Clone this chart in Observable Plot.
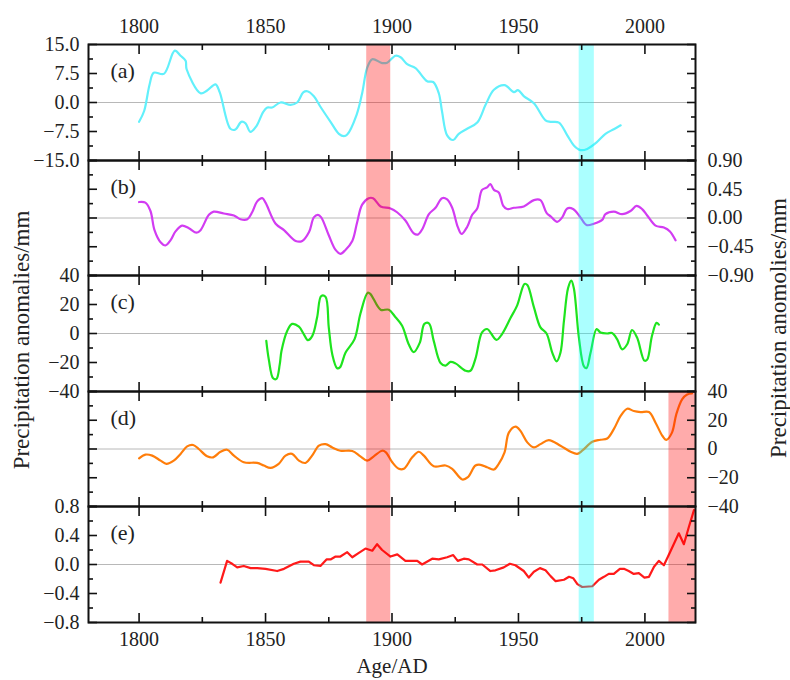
<!DOCTYPE html>
<html><head><meta charset="utf-8">
<script src="https://cdn.jsdelivr.net/npm/d3@7"></script>
<script src="https://cdn.jsdelivr.net/npm/@observablehq/plot@0.6"></script>
<style>
body{margin:0;background:#fff;}
#chart{position:relative;width:790px;height:680px;font-family:"Liberation Serif","DejaVu Serif",serif;color:#222;}
#chart svg{position:absolute;left:0;}
.ylab{position:absolute;width:360px;height:28px;line-height:28px;text-align:center;font-size:23px;transform:rotate(-90deg);white-space:nowrap;font-family:"Liberation Serif","DejaVu Serif",serif;}
</style></head><body><div id="chart"></div>
<script>
// ---------- data ----------
const xMajor = [1800, 1850, 1900, 1950, 2000];
const xMinor = [1825, 1875, 1925, 1975];

const yearsA = [1800,1802,1804.2,1805.8,1809.8,1814.1,1816.4,1818.4,1818.8,1824.3,1826.9,1830.2,1831.9,1836.1,1838.1,1840.4,1842.1,1844,1846.4,1849.1,1850.7,1852.6,1855.9,1859.9,1862.5,1864.9,1866.5,1869.1,1871.7,1875.7,1879,1881,1882.3,1886,1888.2,1890.2,1892.2,1896.1,1898.1,1901.4,1903.4,1906,1909.3,1913.9,1916.3,1918.5,1919.8,1921.8,1924.2,1926.4,1929.7,1933.7,1937,1940.3,1944.5,1948.2,1949.8,1952.2,1956.1,1960.7,1962.7,1966,1969.3,1971.9,1974.5,1977.2,1980.9,1984.4,1987.7,1990.4];
const valuesA = [-5.0,-2.2,4.8,7.7,7.4,13.4,12.1,10.8,8.6,2.4,3.1,4.7,2.6,-6.8,-7.0,-5.0,-5.4,-7.6,-6.1,-2.4,-1.3,-1.3,0,-0.6,0,2.6,2.9,1.6,-1.1,-5,-8.1,-8.7,-8.3,-3.2,2.4,9.0,11.2,10.2,10.3,12.1,11.7,9.9,8.9,5.5,5.3,2.4,-2.4,-8.5,-9.7,-8.1,-6.8,-5.2,-0.6,3.3,4.5,2.7,3.2,1.6,-0.2,-4.6,-5,-5.2,-8.5,-11.1,-12.3,-12.0,-10.3,-8.1,-6.9,-5.9];

const yearsB = [1800,1802.5,1804.5,1806.1,1808.5,1810.4,1812.4,1814.4,1817,1819.7,1822.7,1824.3,1827.6,1829.5,1833.5,1837.5,1840.1,1842.8,1844.7,1846.7,1848.7,1850,1854,1857.3,1861.9,1864.5,1867.2,1869.1,1870.7,1872,1875,1877.7,1879.6,1881.6,1884.3,1886.2,1888.2,1890.8,1892.5,1895.5,1899.4,1902,1905.3,1908.6,1910.2,1911.9,1914.6,1917.2,1919.8,1921.8,1923.8,1926,1927.5,1929.7,1931.7,1933.7,1935.6,1937.6,1938.9,1940.3,1942.2,1944,1945.5,1948.2,1952.1,1956.1,1958.7,1961.1,1962.9,1965.3,1967.3,1969.3,1971.6,1974.5,1976.9,1979.8,1983.1,1984.4,1987.7,1991,1994.3,1996.7,1998.9,2000.9,2004.2,2007.5,2009.9,2012.1];
const valuesB = [0.25,0.24,0.11,-0.19,-0.38,-0.43,-0.35,-0.21,-0.12,-0.16,-0.23,-0.19,0.05,0.10,0.07,0.04,-0.02,-0.02,0.09,0.26,0.31,0.24,-0.09,-0.19,-0.36,-0.36,-0.22,0.01,0.05,0.01,-0.27,-0.50,-0.56,-0.50,-0.36,-0.07,0.21,0.31,0.31,0.18,0.15,0.09,-0.04,-0.24,-0.26,-0.18,0.06,0.16,0.31,0.29,0.16,-0.14,-0.25,-0.14,0.05,0.15,0.44,0.48,0.53,0.44,0.40,0.19,0.14,0.16,0.18,0.28,0.28,0.08,0.02,-0.06,0.01,0.15,0.14,0.01,-0.11,-0.09,-0.03,0.06,0.10,0.06,0.11,0.19,0.14,0.04,-0.12,-0.15,-0.21,-0.35];

const yearsC = [1850.3,1851.3,1853,1854.3,1855.6,1856.3,1858.6,1860.5,1863.2,1865.1,1866.7,1868.5,1870.4,1872,1873.7,1875,1876.4,1878.3,1879.4,1881.6,1885.2,1887.5,1890.4,1891.5,1895.5,1898.7,1901.4,1904,1906.6,1908.6,1911,1912.8,1914.6,1916.5,1919.2,1921.2,1923.1,1925.1,1929.1,1931,1933,1935.6,1937.6,1941.3,1943.5,1946.9,1949.5,1952.4,1953.5,1956.1,1958.7,1961.1,1963.4,1965.1,1966.6,1968,1969.6,1970.9,1971.9,1973.9,1975.9,1976.9,1978.5,1980.9,1982.4,1985.1,1987,1989,1991,1993,1994.9,1996.9,1999.8,2000.9,2002.8,2004.6,2005.5];
const valuesC = [-5.1,-18,-30.9,-31.3,-21.5,-12.1,1.9,6.6,4.7,-0.4,-4.6,-1.6,11.2,25.8,25.3,4.2,-14.5,-23.9,-23.4,-13.3,-3.9,13.6,28.1,27.2,16.4,16.4,11.2,5.4,-7.4,-12.8,-6.3,6.6,7,-5.1,-20.4,-22.2,-19.6,-20.6,-25.7,-25.7,-17.3,0.7,3.1,-4.4,-0.4,10.8,19.4,34.2,33.5,18.2,4.2,0,-13.3,-19.2,-13.3,8.9,31.2,36.5,31.2,-2.8,-22.7,-23.9,-13.3,3.1,0.7,0,0.3,-3.9,-10.9,-7.4,2.4,-2.8,-18.7,-18,-1.6,7.3,6.1];

const yearsD = [1800,1802.5,1805.2,1808.5,1810.8,1813.7,1816.4,1819,1821.4,1823.6,1826.9,1829.3,1832.2,1834.8,1837.5,1841.4,1846.7,1849.3,1852,1855.2,1857.9,1860.5,1863.2,1865.8,1868.4,1871.1,1873.7,1876.4,1879.6,1884.3,1887.5,1890.2,1892.8,1896.1,1897.6,1900.1,1902.7,1904.7,1908,1910.6,1912.6,1916.5,1921.2,1923.8,1927.8,1930,1933,1935,1937.6,1940.3,1942.2,1944.5,1946.2,1948.9,1950.8,1953.5,1956.1,1958.7,1962,1966.6,1970.6,1973.2,1975.2,1979.2,1982.4,1985.1,1987.7,1990.4,1993,1995.6,1998.3,2001.6,2004.2,2006.9,2008.5,2010.7,2012.4,2014.7,2016.7,2018.6];
const valuesD = [-6.5,-3.9,-4.6,-8.1,-10.3,-8.1,-3.4,1.8,2.8,0,-5.1,-5.8,-1.9,-0.5,-4.6,-9.2,-9.7,-11.5,-13.1,-10.3,-4.6,-3.4,-8.1,-9.7,-4.6,2.3,3.4,1.1,-1.2,-1.4,-5.1,-8.1,-5.1,-1.2,-2.3,-9.2,-13.8,-13.8,-5.8,-1.9,-4.6,-12,-11.5,-13.8,-21.2,-19.6,-11.5,-11,-12.7,-14.3,-10.3,-2.3,11.4,15.6,12.6,4.6,1.1,3.4,6.2,2.3,-1.9,-3.4,-1.2,5.0,6.4,7.3,13.8,23,28,26.4,25.7,25.7,18.3,9.2,6.4,11.4,24.1,34.5,37.9,38.6];

const yearsE = [1832.2,1834.8,1836.8,1838.8,1841.4,1844.1,1846.7,1850,1854.6,1857.3,1861.2,1863.8,1867.1,1869.1,1871.7,1874.1,1875.7,1877.7,1879.6,1882.3,1884.3,1886.9,1889.5,1892.2,1894.1,1896.1,1899.4,1902.1,1905.3,1910,1911.9,1915.9,1918.5,1921.8,1924.2,1926,1928.4,1930.4,1933.7,1935.7,1938.9,1940.9,1944.2,1946.6,1948.8,1952.1,1954.1,1956.1,1958.5,1960.7,1962.7,1964.7,1968,1970,1971.7,1973.3,1975.2,1979.2,1981.8,1983.8,1985.7,1987.7,1990.1,1991.7,1993.6,1995.6,1997.6,1999.8,2001.6,2003.6,2005.5,2007.5,2010.2,2013.4,2015.4,2017.4,2019.4];
const valuesE = [-0.25,0.05,0.01,-0.04,-0.02,-0.05,-0.05,-0.06,-0.09,-0.06,0.01,0.04,0.04,-0.01,-0.02,0.07,0.07,0.11,0.11,0.17,0.10,0.16,0.22,0.19,0.28,0.20,0.11,0.14,0.05,0.05,0,0.08,0.07,0.10,0.13,0.05,0.08,0.07,0,0,-0.09,-0.08,-0.04,0.01,-0.01,-0.09,-0.18,-0.10,-0.05,-0.08,-0.16,-0.23,-0.21,-0.17,-0.19,-0.27,-0.31,-0.30,-0.21,-0.17,-0.13,-0.13,-0.06,-0.06,-0.09,-0.13,-0.12,-0.18,-0.17,-0.03,0.05,-0.01,0.19,0.43,0.28,0.52,0.75];

const bandWarm1 = [[1890, 1899.5]];
const bandCool = [[1974, 1980]];
const bandWarm2 = [[2009.5, 2020]];

const panelTags = ["(a)", "(b)", "(c)", "(d)", "(e)"];
const yLabelLeft = "Precipitation anomalies/mm";
const yLabelRight = "Precipitation anomolies/mm";
const xLabel = "Age/AD";

// ---------- layout ----------
const W = 790, ML = 88, MR = 95;
const FONT = "'Liberation Serif', 'DejaVu Serif', serif";
const FS = 20;
const panels = [
  {tag: panelTags[0], years: yearsA, values: valuesA, domain: [-15, 15], major: [-15, -7.5, 0, 7.5, 15], minor: [-11.25, -3.75, 3.75, 11.25], side: "left", fmt: d3.format(".1f"), color: "#62f0fb", curve: "catmull-rom", top: 44, h: 116, mt: 44, mb: 0, bands: [[bandWarm1, "#ff0000"], [bandCool, "#00ffff"]]},
  {tag: panelTags[1], years: yearsB, values: valuesB, domain: [-0.9, 0.9], major: [-0.9, -0.45, 0, 0.45, 0.9], minor: [-0.675, -0.225, 0.225, 0.675], side: "right", fmt: d3.format(".2f"), color: "#d23cf2", curve: "catmull-rom", top: 160, h: 115, mt: 0, mb: 0, bands: [[bandWarm1, "#ff0000"], [bandCool, "#00ffff"]]},
  {tag: panelTags[2], years: yearsC, values: valuesC, domain: [-40, 40], major: [-40, -20, 0, 20, 40], minor: [-30, -10, 10, 30], side: "left", fmt: d3.format("d"), color: "#1ee41e", curve: "catmull-rom", top: 275, h: 116, mt: 0, mb: 0, bands: [[bandWarm1, "#ff0000"], [bandCool, "#00ffff"]]},
  {tag: panelTags[3], years: yearsD, values: valuesD, domain: [-40, 40], major: [-40, -20, 0, 20, 40], minor: [-30, -10, 10, 30], side: "right", fmt: d3.format("d"), color: "#ff7d0a", curve: "catmull-rom", top: 391, h: 115, mt: 0, mb: 0, bands: [[bandWarm1, "#ff0000"], [bandCool, "#00ffff"], [bandWarm2, "#ff0000"]]},
  {tag: panelTags[4], years: yearsE, values: valuesE, domain: [-0.8, 0.8], major: [-0.8, -0.4, 0, 0.4, 0.8], minor: [-0.6, -0.2, 0.2, 0.6], side: "left", fmt: d3.format(".1f"), color: "#ff1a1a", curve: "linear", top: 506, h: 116, mt: 0, mb: 58, bands: [[bandWarm1, "#ff0000"], [bandCool, "#00ffff"], [bandWarm2, "#ff0000"]]}
];

const chart = document.getElementById("chart");
const blank = () => "";
const tickStyle = {stroke: "#111", strokeWidth: 1.6, label: null, tickFormat: blank};

panels.forEach((p, i) => {
  const data = p.years.map((x, k) => ({year: x, value: p.values[k]}));
  const marks = [
    Plot.ruleY([0], {stroke: "#b8b8b8", strokeWidth: 1}),
    Plot.line(data, {x: "year", y: "value", stroke: p.color, strokeWidth: 2.2, curve: p.curve}),
    ...p.bands.map(([spans, fill]) => Plot.rect(spans, {x1: d => d[0], x2: d => d[1], fill, fillOpacity: 0.33})),
    Plot.frame({stroke: "#111", strokeWidth: 2}),
    Plot.axisX({...tickStyle, anchor: "top", ticks: xMajor, tickSize: -9}),
    Plot.axisX({...tickStyle, anchor: "top", ticks: xMinor, tickSize: -5}),
    Plot.axisX({...tickStyle, anchor: "bottom", ticks: xMajor, tickSize: -9}),
    Plot.axisX({...tickStyle, anchor: "bottom", ticks: xMinor, tickSize: -5}),
    Plot.axisY({...tickStyle, anchor: "left", ticks: p.major, tickSize: -9}),
    Plot.axisY({...tickStyle, anchor: "left", ticks: p.minor, tickSize: -5}),
    Plot.axisY({...tickStyle, anchor: "right", ticks: p.major, tickSize: -9}),
    Plot.axisY({...tickStyle, anchor: "right", ticks: p.minor, tickSize: -5}),
    Plot.axisY({anchor: p.side, ticks: p.major, tickSize: 0, tickPadding: p.side === "left" ? 9 : 12, tickFormat: p.fmt, label: null, fill: "#222", fontSize: FS, fontFamily: FONT}),
    Plot.text([p.tag], {text: d => d, frameAnchor: "top-left", dx: 22, dy: 26, textAnchor: "start", lineAnchor: "middle", fontSize: 22, fontFamily: FONT, fill: "#222"})
  ];
  if (i === 0) marks.push(Plot.axisX({anchor: "top", ticks: xMajor, tickSize: 0, tickPadding: 12, tickFormat: d3.format("d"), label: null, fill: "#222", fontSize: FS, fontFamily: FONT}));
  if (i === panels.length - 1) {
    marks.push(Plot.axisX({anchor: "bottom", ticks: xMajor, tickSize: 0, tickPadding: 9, tickFormat: d3.format("d"), label: null, fill: "#222", fontSize: FS, fontFamily: FONT}));
    marks.push(Plot.text([xLabel], {text: d => d, frameAnchor: "bottom", dy: 44, lineAnchor: "middle", fontSize: 21, fontFamily: FONT, fill: "#222"}));
  }
  const svg = Plot.plot({
    width: W,
    height: p.mt + p.h + p.mb,
    marginLeft: ML, marginRight: MR, marginTop: p.mt, marginBottom: p.mb,
    x: {domain: [1780, 2020]},
    y: {domain: p.domain},
    style: "overflow: visible; background: transparent; font-family: " + FONT + "; font-size: 20px;",
    marks
  });
  svg.style.top = (p.top - p.mt) + "px";
  chart.appendChild(svg);
});

function addYLabel(text, cx, cy) {
  const d = document.createElement("div");
  d.className = "ylab";
  d.textContent = text;
  d.style.left = (cx - 180) + "px";
  d.style.top = (cy - 14) + "px";
  chart.appendChild(d);
}
addYLabel(yLabelLeft, 22, 340);
addYLabel(yLabelRight, 779, 328);
</script></body></html>
